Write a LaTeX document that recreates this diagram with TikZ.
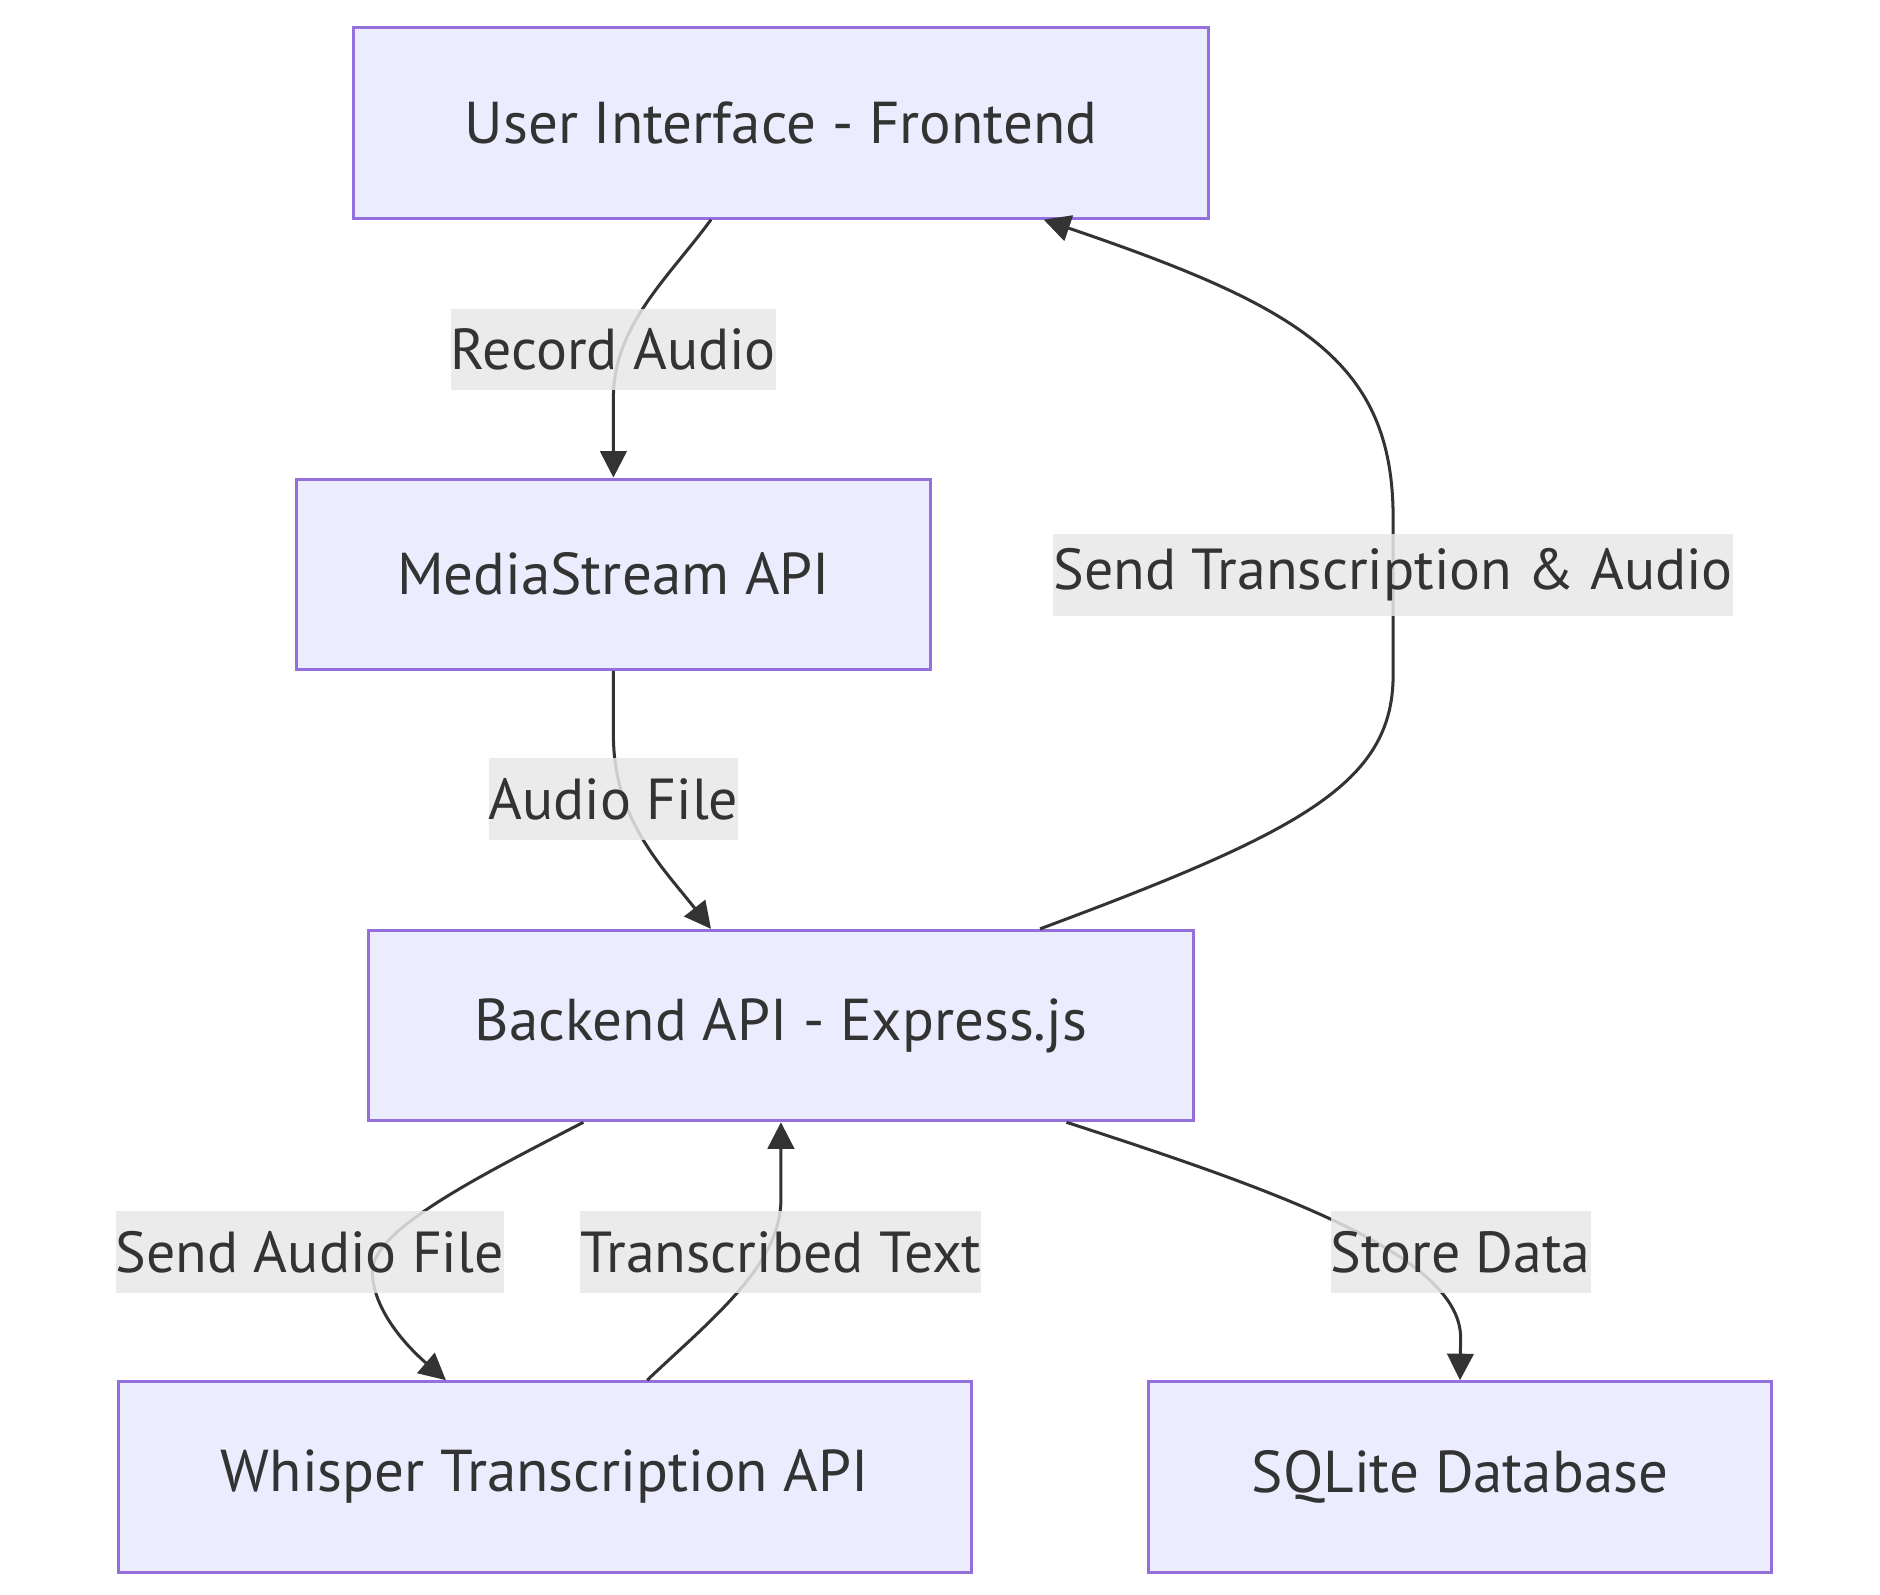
\documentclass[tikz,border=0pt]{standalone}
\usepackage{fontspec}
\setmainfont{PT Sans}
\usetikzlibrary{arrows.meta}
\definecolor{nodefill}{HTML}{ECECFF}
\definecolor{nodeline}{HTML}{9370DB}
\definecolor{edgecol}{HTML}{333333}
\definecolor{lblbg}{HTML}{E8E8E8}
\begin{document}
\begin{tikzpicture}[x=1pt,y=-1pt,
  box/.style={draw=nodeline, fill=nodefill, line width=2.5pt, text=edgecol,
    font=\fontsize{49}{58}\selectfont, inner sep=0pt, minimum height=158pt},
  lbl/.style={fill=lblbg, fill opacity=0.85, text opacity=1, text=edgecol,
    font=\fontsize{48}{58}\selectfont, inner xsep=0pt, inner ysep=0pt, minimum height=68pt},
  edge/.style={draw=edgecol, line width=2.5pt, -{Triangle[length=22pt,width=22pt]}}]
\useasboundingbox (0,0) rectangle (1560,1322.7);
\node[box, minimum width=710pt] (ui) at (648,102) {User Interface - Frontend};
\node[box, minimum width=526pt] (ms) at (509,476.5) {MediaStream API};
\node[box, minimum width=684pt] (be) at (648,851) {Backend API - Express.js};
\node[box, minimum width=708pt] (wh) at (452,1225.5) {Whisper Transcription API};
\node[box, minimum width=517pt] (sq) at (1211.5,1225.5) {SQLite Database};
\draw[edge] ([xshift=-58pt]ui.south) .. controls (555,230) and (509,270) .. (509,330) -- (ms.north);
\draw[edge] (ms.south) -- (509,610) .. controls (509,680) and (550,720) .. ([xshift=-58pt]be.north);
\draw[edge] ([xshift=215pt]be.north) .. controls (1080,690) and (1156,650) .. (1156,560) -- (1156,430) .. controls (1156,300) and (1080,255) .. ([xshift=218pt]ui.south);
\draw[edge] ([xshift=-164pt]be.south) .. controls (400,975) and (309,1020) .. (309,1055) .. controls (309,1085) and (335,1115) .. ([xshift=-82pt]wh.north);
\draw[edge] ([xshift=85pt]wh.north) .. controls (590,1095) and (648,1050) .. (648,995) -- (be.south);
\draw[edge] ([xshift=237pt]be.south) .. controls (1050,985) and (1212,1040) .. (1212,1110) -- (sq.north);
\node[lbl] (l1) at (509,290) {Record Audio};
\node[lbl] (l2) at (509,663) {Audio File};
\node[lbl] (l3) at (1156,477) {Send Transcription \& Audio};
\node[lbl] (l4) at (257,1039) {Send Audio File};
\node[lbl] (l5) at (648,1039) {Transcribed Text};
\node[lbl] (l6) at (1212,1039) {Store Data};
\end{tikzpicture}
\end{document}
